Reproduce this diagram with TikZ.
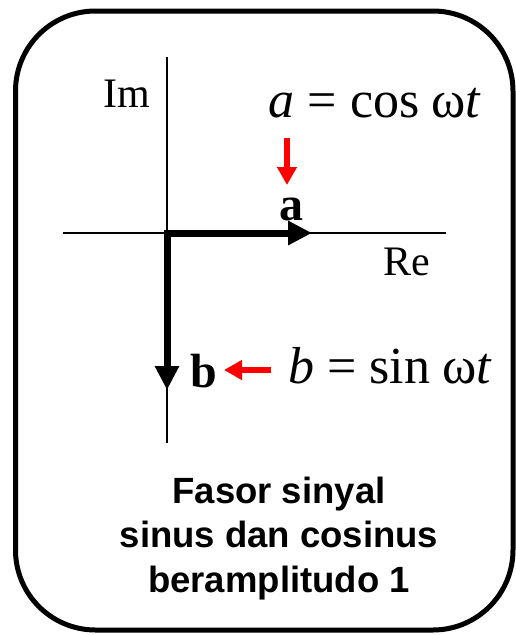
\documentclass[tikz,border=0pt]{standalone}
\usepackage{fontspec}
\setmainfont{Liberation Serif}
\newfontfamily\arialfont{Liberation Sans}
\usetikzlibrary{arrows.meta}
\begin{document}
\begin{tikzpicture}[x=1pt,y=-1pt,
  lbl/.style={inner sep=0pt, anchor=base},
  axisline/.style={line width=1.3pt},
  phasor/.style={line width=7pt, line join=miter,
    {Triangle[length=24pt,width=23pt]}-{Triangle[length=24pt,width=23pt]}},
  redarrow/.style={draw=red, line width=6pt, -{Triangle[length=18pt,width=19pt]}}]
\useasboundingbox (0,0) rectangle (516,635);
\draw[line width=5pt, rounded corners=80pt] (15.5,11) rectangle (513,630);
% axes
\coordinate (ImTop) at (167,57);
\coordinate (ImBot) at (167,443);
\coordinate (ReL) at (63,233);
\coordinate (ReR) at (446,233);
\coordinate (O) at (167,233);
\coordinate (Atip) at (312,233);
\coordinate (Btip) at (167,390);
\draw[axisline] (ImTop) -- (ImBot);
\draw[axisline] (ReL) -- (ReR);
\draw[phasor] (Atip) -- (O) -- (Btip);
% labels
\node[lbl, font=\fontsize{42}{42}\selectfont] (im) at (127,107) {Im};
\node[lbl, font=\fontsize{42}{42}\selectfont] (re) at (407,275) {Re};
\node[lbl, font=\fontsize{48}{48}\selectfont\bfseries] (la) at (291,220) {a};
\node[lbl, font=\fontsize{48}{48}\selectfont\bfseries] (lb) at (204,387) {b};
\node[lbl, font=\fontsize{52}{52}\selectfont] (ea) at (375,117)
  {\textit{a}\hspace{13pt}=\hspace{13pt}cos\hspace{12pt}ω\textit{t}};
\node[lbl, font=\fontsize{52}{52}\selectfont] (eb) at (390,383)
  {\textit{b}\hspace{13pt}=\hspace{13pt}sin\hspace{12pt}ω\textit{t}};
% red arrows
\coordinate (ra1) at (287,138);
\coordinate (ra2) at (287,185);
\coordinate (rb1) at (271,370);
\coordinate (rb2) at (224,370);
\draw[redarrow] (ra1) -- (ra2);
\draw[redarrow] (rb1) -- (rb2);
% caption
\node[inner sep=0pt, anchor=base, align=center, font=\arialfont\bfseries\fontsize{36.5}{44.5}\selectfont] (cap) at (279,592)
  {Fasor sinyal\\sinus dan cosinus\\beramplitudo 1};
\end{tikzpicture}
\end{document}
